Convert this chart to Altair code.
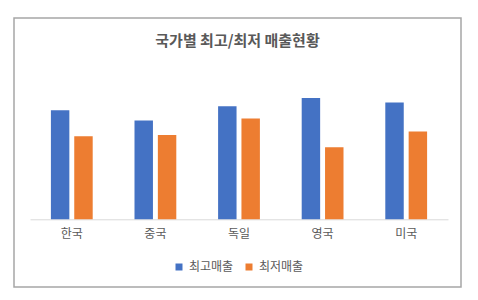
import altair as alt
import pandas as pd

countries = ["한국", "중국", "독일", "영국", "미국"]
series = ["최고매출", "최저매출"]
high_sales = [109, 98.7, 113, 121.3, 116.7]
low_sales = [83, 84.3, 100.7, 72, 87.7]
colors = ["#4472C4", "#ED7D31"]

rows = []
for c, h, l in zip(countries, high_sales, low_sales):
    rows.append({"국가": c, "구분": series[0], "매출": h})
    rows.append({"국가": c, "구분": series[1], "매출": l})
df = pd.DataFrame(rows)

FONT = "Noto Sans CJK KR"
TXT = "#595959"

chart = (
    alt.Chart(df)
    .mark_bar()
    .encode(
        x=alt.X(
            "국가:N",
            sort=countries,
            title=None,
            scale=alt.Scale(range=[16, 434], paddingInner=0.5, paddingOuter=0.25),
            axis=alt.Axis(
                orient="bottom",
                offset=-67.7,
                ticks=False,
                domainColor="#D9D9D9",
                domainWidth=1,
                labelAngle=0,
                labelPadding=9,
                labelFont=FONT,
                labelFontSize=12,
                labelColor=TXT,
                grid=False,
            ),
        ),
        xOffset=alt.XOffset(
            "구분:N", sort=series, scale=alt.Scale(paddingInner=0.21, paddingOuter=0)
        ),
        y=alt.Y(
            "매출:Q",
            axis=None,
            scale=alt.Scale(domain=[-67.7, 201.3], nice=False, zero=False),
        ),
        color=alt.Color(
            "구분:N",
            sort=series,
            scale=alt.Scale(domain=series, range=colors),
            legend=alt.Legend(
                title=None,
                orient="none",
                legendX=159,
                legendY=243,
                direction="horizontal",
                symbolType="square",
                symbolSize=49,
                symbolStrokeWidth=0,
                labelFont=FONT,
                labelFontSize=12,
                labelColor=TXT,
                labelOffset=4,
                columnPadding=9,
            ),
        ),
    )
    .properties(
        width=447,
        height=269,
        title=alt.TitleParams(
            "국가별 최고/최저 매출현황",
            anchor="middle",
            offset=-31,
            font=FONT,
            fontSize=15,
            fontWeight="bold",
            color=TXT,
        ),
        autosize=alt.AutoSizeParams(type="none"),
        padding={"left": 14, "top": 18, "right": 17, "bottom": 13},
        background="white",
    )
    .configure_view(stroke="#A6A6A6", strokeWidth=1.5)
)

chart.save("out.html", embed_options={"renderer": "svg", "actions": False})
